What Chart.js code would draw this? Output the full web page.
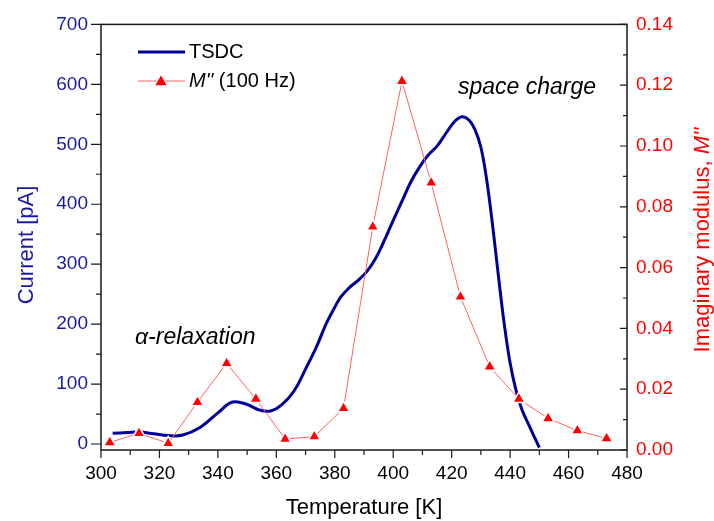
<!DOCTYPE html>
<html lang="en">
<head>
    <meta charset="UTF-8">
    <title>TSDC and M'' vs Temperature</title>
    <script src="https://cdn.jsdelivr.net/npm/chart.js"></script>
    <style>
        body {
            margin: 0;
            background-color: #ffffff;
        }
    </style>
</head>
<body>
    <canvas id="tsdcChart" width="714" height="521"></canvas>

    <script>
        // TSDC curve (left axis, pA)
        const tsdcTemp = [304, 309, 313, 318, 323, 328, 334, 340, 345, 350, 354, 358, 362, 366, 370, 374, 377, 380, 382, 385, 388, 391, 394, 397, 400, 403, 406, 409, 412, 415, 418, 421, 423.5, 426, 428, 430, 432, 434, 436, 438, 440, 442, 444, 446, 448, 450];
        const tsdcCurrent = [18, 19, 20, 17, 14, 15, 28, 52, 70, 66, 57, 55, 66, 88, 125, 165, 200, 228, 245, 261, 273, 288, 310, 340, 373, 405, 437, 462, 482, 497, 518, 538, 546, 540, 524, 495, 440, 365, 280, 200, 135, 90, 58, 36, 15, -6];

        // M'' at 100 Hz (right axis)
        const modTemp = [303, 313, 323, 333, 343, 353, 363, 373, 383, 393, 403, 413, 423, 433, 443, 453, 463, 473];
        const modValues = [0.0025, 0.0055, 0.0022, 0.0157, 0.0285, 0.0168, 0.0036, 0.0044, 0.0137, 0.0734, 0.1213, 0.0879, 0.0504, 0.0274, 0.0168, 0.0104, 0.0064, 0.0038];

        const tempTicks = [300, 320, 340, 360, 380, 400, 420, 440, 460, 480];
        const currentTicks = [0, 100, 200, 300, 400, 500, 600, 700];
        const modTicks = [0, 0.02, 0.04, 0.06, 0.08, 0.10, 0.12, 0.14];

        const FONT = 'Arial, "Liberation Sans", sans-serif';
        const BLUE = '#000099';
        const BLUE_TEXT = '#1a1aa0';
        const RED = '#ff0000';

        function triangle(ctx, x, y, r) {
            ctx.beginPath();
            ctx.moveTo(x, y - r);
            ctx.lineTo(x + r * Math.sin(2 * Math.PI / 3), y + r / 2);
            ctx.lineTo(x - r * Math.sin(2 * Math.PI / 3), y + r / 2);
            ctx.closePath();
            ctx.fill();
        }

        // frame, tick marks, legend, vertical titles and labels
        const decorations = {
            id: 'decorations',
            afterDraw(chart) {
                const ctx = chart.ctx;
                const a = chart.chartArea;
                const xs = chart.scales.x, ys = chart.scales.y, y2 = chart.scales.y2;
                ctx.save();
                ctx.strokeStyle = '#1a1a1a';
                ctx.lineWidth = 1.5;
                ctx.strokeRect(a.left, a.top, a.right - a.left, a.bottom - a.top);

                ctx.lineWidth = 1.2;
                ctx.beginPath();
                for (let v = 300; v <= 480; v += 10) {
                    const px = xs.getPixelForValue(v);
                    const len = v % 20 === 0 ? 8 : 5;
                    ctx.moveTo(px, a.bottom);
                    ctx.lineTo(px, a.bottom + len);
                }
                for (let v = 0; v <= 700; v += 50) {
                    const py = ys.getPixelForValue(v);
                    const len = v % 100 === 0 ? 10 : 5;
                    ctx.moveTo(a.left - len, py);
                    ctx.lineTo(a.left, py);
                }
                for (let i = 0; i <= 14; i++) {
                    const py = y2.getPixelForValue(i / 100);
                    const len = i % 2 === 0 ? 7 : 4;
                    ctx.moveTo(a.right - len, py);
                    ctx.lineTo(a.right, py);
                }
                ctx.stroke();

                // legend
                ctx.lineWidth = 3;
                ctx.strokeStyle = BLUE;
                ctx.beginPath();
                ctx.moveTo(138, 52);
                ctx.lineTo(185, 52);
                ctx.stroke();
                ctx.lineWidth = 1;
                ctx.strokeStyle = '#ff6060';
                ctx.beginPath();
                ctx.moveTo(138, 81);
                ctx.lineTo(185, 81);
                ctx.stroke();
                ctx.fillStyle = '#fff';
                triangle(ctx, 161, 82, 9);
                ctx.fillStyle = RED;
                triangle(ctx, 161, 82, 6.5);

                ctx.fillStyle = '#000';
                ctx.textBaseline = 'middle';
                ctx.textAlign = 'left';
                ctx.font = '20px ' + FONT;
                ctx.fillText('TSDC', 189, 52);
                ctx.font = 'italic 20px ' + FONT;
                ctx.fillText("M''", 189, 81);
                const w = ctx.measureText("M''").width;
                ctx.font = '20px ' + FONT;
                ctx.fillText(' (100 Hz)', 189 + w, 81);

                // annotations
                ctx.font = 'italic 23px ' + FONT;
                ctx.fillText('space charge', 458, 88);
                ctx.fillText('\u03b1-relaxation', 135, 338);

                // left title
                ctx.save();
                ctx.translate(27, 245);
                ctx.rotate(-Math.PI / 2);
                ctx.textAlign = 'center';
                ctx.fillStyle = BLUE_TEXT;
                ctx.font = '22px ' + FONT;
                ctx.fillText('Current [pA]', 0, 0);
                ctx.restore();

                // right title
                ctx.save();
                ctx.translate(703, 240);
                ctx.rotate(-Math.PI / 2);
                ctx.fillStyle = RED;
                ctx.font = '22px ' + FONT;
                const t1 = 'Imaginary modulus, ';
                const w1 = ctx.measureText(t1).width;
                ctx.font = 'italic 22px ' + FONT;
                const w2 = ctx.measureText("M''").width;
                const start = -(w1 + w2) / 2;
                ctx.textAlign = 'left';
                ctx.font = '22px ' + FONT;
                ctx.fillText(t1, start, 0);
                ctx.font = 'italic 22px ' + FONT;
                ctx.fillText("M''", start + w1, 0);
                ctx.restore();

                ctx.restore();
            }
        };

        const ctx = document.getElementById('tsdcChart').getContext('2d');
        const chart = new Chart(ctx, {
            type: 'line',
            data: {
                datasets: [{
                    label: "M'' (100 Hz)",
                    data: modTemp.map((t, i) => ({ x: t, y: modValues[i] })),
                    yAxisID: 'y2',
                    borderColor: '#ff6060',
                    borderWidth: 1,
                    pointStyle: 'triangle',
                    pointRadius: 7,
                    pointBackgroundColor: RED,
                    pointBorderColor: '#ffffff',
                    pointBorderWidth: 1.5,
                    tension: 0,
                    order: 0
                }, {
                    label: 'TSDC',
                    data: tsdcTemp.map((t, i) => ({ x: t, y: tsdcCurrent[i] })),
                    yAxisID: 'y',
                    borderColor: BLUE,
                    borderWidth: 3,
                    pointRadius: 0,
                    tension: 0.4,
                    order: 1
                }]
            },
            options: {
                responsive: false,
                animation: false,
                devicePixelRatio: 1,
                layout: { padding: { top: 24, left: 0, right: 0, bottom: 0 } },
                plugins: {
                    legend: { display: false },
                    tooltip: { enabled: false }
                },
                scales: {
                    x: {
                        type: 'linear',
                        min: 300,
                        max: 480,
                        afterBuildTicks: s => { s.ticks = tempTicks.map(v => ({ value: v })); },
                        afterFit: s => { s.height = 71; },
                        grid: { display: false, drawTicks: false },
                        border: { display: false },
                        ticks: {
                            color: '#000',
                            font: { family: FONT, size: 19 },
                            padding: 12,
                            maxRotation: 0
                        },
                        title: {
                            display: true,
                            text: 'Temperature [K]',
                            color: '#000',
                            font: { family: FONT, size: 22 },
                            padding: { top: 0, bottom: 0 }
                        }
                    },
                    y: {
                        position: 'left',
                        min: -10,
                        max: 700,
                        afterBuildTicks: s => { s.ticks = currentTicks.map(v => ({ value: v })); },
                        afterFit: s => { s.width = 101; },
                        grid: { display: false, drawTicks: false },
                        border: { display: false },
                        ticks: {
                            color: BLUE_TEXT,
                            font: { family: FONT, size: 19 },
                            padding: 13
                        }
                    },
                    y2: {
                        position: 'right',
                        min: 0,
                        max: 0.14,
                        afterBuildTicks: s => { s.ticks = modTicks.map(v => ({ value: v })); },
                        afterFit: s => { s.width = 87; },
                        grid: { display: false, drawTicks: false },
                        border: { display: false },
                        ticks: {
                            color: RED,
                            font: { family: FONT, size: 19 },
                            padding: 9,
                            callback: v => v.toFixed(2)
                        }
                    }
                }
            },
            plugins: [decorations]
        });
    </script>
</body>
</html>
